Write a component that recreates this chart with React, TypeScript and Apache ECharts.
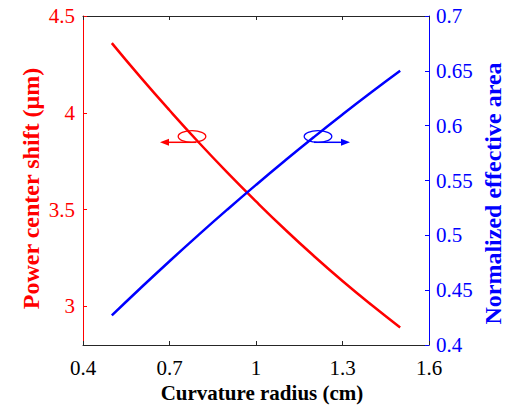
import React, { useEffect, useRef } from "react";
import * as echarts from "echarts";

const radius = [0.5, 0.6, 0.7, 0.8, 0.9, 1.0, 1.1, 1.2, 1.3, 1.4, 1.5];
const shift = [4.36, 4.183, 4.013, 3.849, 3.692, 3.542, 3.398, 3.261, 3.131, 3.008, 2.891];
const area = [0.427, 0.452, 0.4764, 0.5002, 0.5234, 0.546, 0.568, 0.5894, 0.6102, 0.6304, 0.65];
const xTicks = [0.4, 0.7, 1, 1.3, 1.6];
const leftTicks = [3, 3.5, 4, 4.5];
const rightTicks = [0.4, 0.45, 0.5, 0.55, 0.6, 0.65, 0.7];

const FONT = "Liberation Serif";
const RED = "#ff0000";
const BLUE = "#0000ff";
const DARK = "#262626";

export default function App() {
  const ref = useRef<HTMLDivElement>(null);
  useEffect(() => {
    if (!ref.current) return;
    const chart = echarts.init(ref.current, undefined, { renderer: "svg" });
    const tickLabel = (color: string) => ({
      color,
      fontFamily: FONT,
      fontSize: 21,
      showMinLabel: true,
      showMaxLabel: true,
    });
    chart.setOption({
      animation: false,
      backgroundColor: "#ffffff",
      grid: { left: 83, right: 77, top: 16, bottom: 60, containLabel: false, outerBoundsMode: "none" },
      xAxis: [
        {
          type: "value",
          min: 0.4,
          max: 1.6,
          position: "bottom",
          name: "Curvature radius (cm)",
          nameLocation: "middle",
          nameGap: 37,
          nameMoveOverlap: false,
          nameTextStyle: { color: "#000", fontFamily: FONT, fontSize: 21, fontWeight: "bold", padding: [0, 0, 0, 12] },
          axisLine: { show: true, lineStyle: { color: DARK, width: 1 } },
          axisTick: { show: true, inside: true, length: 4, customValues: xTicks, lineStyle: { color: DARK } },
          axisLabel: { ...tickLabel("#000"), margin: 12, customValues: xTicks },
          splitLine: { show: false },
        },
        {
          type: "value",
          min: 0.4,
          max: 1.6,
          position: "top",
          axisLine: { show: true, lineStyle: { color: DARK, width: 1 } },
          axisTick: { show: true, inside: true, length: 4, customValues: xTicks, lineStyle: { color: DARK } },
          axisLabel: { show: false },
          splitLine: { show: false },
        },
      ],
      yAxis: [
        {
          type: "value",
          min: 2.8,
          max: 4.5,
          position: "left",
          name: "Power center shift (μm)",
          nameLocation: "middle",
          nameGap: 40,
          nameMoveOverlap: false,
          nameTextStyle: { color: RED, fontFamily: FONT, fontSize: 24, fontWeight: "bold", padding: [0, 16, 0, 0] },
          axisLine: { show: true, lineStyle: { color: RED, width: 1 } },
          axisTick: { show: true, inside: true, length: 4, customValues: leftTicks, lineStyle: { color: RED } },
          axisLabel: { ...tickLabel(RED), margin: 8, customValues: leftTicks },
          splitLine: { show: false },
        },
        {
          type: "value",
          min: 0.4,
          max: 0.7,
          position: "right",
          name: "Normalized effective area",
          nameLocation: "middle",
          nameGap: 52,
          nameMoveOverlap: false,
          nameTextStyle: { color: BLUE, fontFamily: FONT, fontSize: 24, fontWeight: "bold", padding: [0, 26, 0, 0] },
          axisLine: { show: true, lineStyle: { color: BLUE, width: 1 } },
          axisTick: { show: true, inside: true, length: 4, customValues: rightTicks, lineStyle: { color: BLUE } },
          axisLabel: { ...tickLabel(BLUE), margin: 7, customValues: rightTicks },
          splitLine: { show: false },
        },
      ],
      series: [
        {
          type: "line",
          xAxisIndex: 0,
          yAxisIndex: 0,
          data: radius.map((x, i) => [x, shift[i]]),
          smooth: true,
          showSymbol: false,
          lineStyle: { color: RED, width: 2.5 },
          itemStyle: { color: RED },
        },
        {
          type: "line",
          xAxisIndex: 0,
          yAxisIndex: 1,
          data: radius.map((x, i) => [x, area[i]]),
          smooth: true,
          showSymbol: false,
          lineStyle: { color: BLUE, width: 2.5 },
          itemStyle: { color: BLUE },
        },
      ],
      graphic: [
        { type: "ellipse", shape: { cx: 192, cy: 136.5, rx: 13.8, ry: 5.8 }, style: { fill: "none", stroke: RED, lineWidth: 1.3 }, z: 10 },
        { type: "line", shape: { x1: 196, y1: 142.3, x2: 166, y2: 142.3 }, style: { stroke: RED, lineWidth: 1.5 }, z: 10 },
        { type: "polygon", shape: { points: [[160, 142.3], [169, 138.8], [169, 145.8]] }, style: { fill: RED }, z: 10 },
        { type: "ellipse", shape: { cx: 318, cy: 136.5, rx: 13.8, ry: 5.8 }, style: { fill: "none", stroke: BLUE, lineWidth: 1.3 }, z: 10 },
        { type: "line", shape: { x1: 314, y1: 142.3, x2: 344, y2: 142.3 }, style: { stroke: BLUE, lineWidth: 1.5 }, z: 10 },
        { type: "polygon", shape: { points: [[350, 142.3], [341, 138.8], [341, 145.8]] }, style: { fill: BLUE }, z: 10 },
      ],
    });
    return () => chart.dispose();
  }, []);
  return (
    <div
      ref={ref}
      style={{ position: "absolute", left: 0, top: 0, width: 506, height: 405 }}
    />
  );
}
